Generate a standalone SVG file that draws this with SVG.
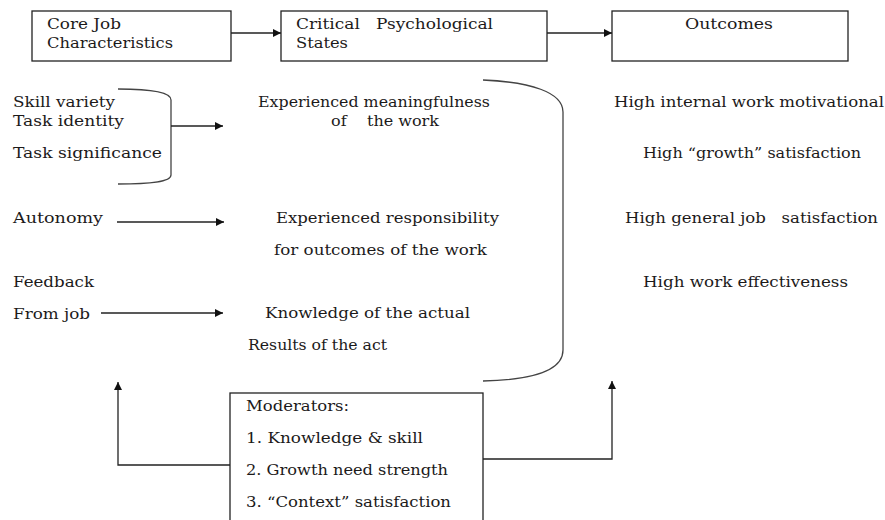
<svg xmlns="http://www.w3.org/2000/svg" width="885" height="520" viewBox="0 0 885 520">
<style>
text{font-family:'DejaVu Serif','Liberation Serif',serif;font-size:14px;fill:#1c1a1a;}
.box{fill:#fff;stroke:#222;stroke-width:1.3;}
.ln{fill:none;stroke:#222;stroke-width:1.3;}
.br{fill:none;stroke:#444;stroke-width:1.3;}
</style>
<defs>
<marker id="ah" viewBox="0 0 10 10" refX="10" refY="5" markerWidth="11" markerHeight="8" markerUnits="userSpaceOnUse" orient="auto">
<path d="M0,0 L10,5 L0,10 z" fill="#111"/>
</marker>
</defs>
<rect width="885" height="520" fill="#fff"/>

<g id="core-box">
<rect class="box" x="32" y="11" width="199" height="50"/>
<text x="47" y="29" textLength="74" lengthAdjust="spacingAndGlyphs">Core Job</text>
<text x="47" y="48" textLength="126" lengthAdjust="spacingAndGlyphs">Characteristics</text>
</g>
<g id="critical-box">
<rect class="box" x="281" y="11" width="266" height="50"/>
<text x="296" y="29" xml:space="preserve" textLength="197" lengthAdjust="spacingAndGlyphs">Critical   Psychological</text>
<text x="296" y="48" textLength="52" lengthAdjust="spacingAndGlyphs">States</text>
</g>
<g id="outcomes-box">
<rect class="box" x="612" y="11" width="236" height="50"/>
<text x="685" y="29" textLength="88" lengthAdjust="spacingAndGlyphs">Outcomes</text>
</g>

<g id="core-list">
<path class="br" d="M118,89 C150,89 171,92 171,100 L171,175 C171,182 150,184 118,184"/>
<text x="13" y="107" textLength="102" lengthAdjust="spacingAndGlyphs">Skill variety</text>
<text x="13" y="126" textLength="111" lengthAdjust="spacingAndGlyphs">Task identity</text>
<text x="13" y="158" textLength="149" lengthAdjust="spacingAndGlyphs">Task significance</text>
<text x="13" y="223" textLength="90" lengthAdjust="spacingAndGlyphs">Autonomy</text>
<text x="13" y="287" textLength="81" lengthAdjust="spacingAndGlyphs">Feedback</text>
<text x="13" y="319" textLength="77" lengthAdjust="spacingAndGlyphs">From job</text>
</g>

<g id="states-list">
<path class="br" d="M483,80 C530,82 563,92 563,112 L563,350 C563,372 530,380 483,381"/>
<text x="258" y="107" textLength="232" lengthAdjust="spacingAndGlyphs">Experienced meaningfulness</text>
<text x="331" y="126" xml:space="preserve" textLength="108" lengthAdjust="spacingAndGlyphs">of    the work</text>
<text x="276" y="223" textLength="223" lengthAdjust="spacingAndGlyphs">Experienced responsibility</text>
<text x="274" y="255" textLength="213" lengthAdjust="spacingAndGlyphs">for outcomes of the work</text>
<text x="265" y="318" textLength="205" lengthAdjust="spacingAndGlyphs">Knowledge of the actual</text>
<text x="248" y="350" textLength="139" lengthAdjust="spacingAndGlyphs">Results of the act</text>
</g>

<g id="outcomes-list">
<text x="614" y="107" textLength="270" lengthAdjust="spacingAndGlyphs">High internal work motivational</text>
<text x="643" y="158" textLength="218" lengthAdjust="spacingAndGlyphs">High “growth” satisfaction</text>
<text x="625" y="223" xml:space="preserve" textLength="253" lengthAdjust="spacingAndGlyphs">High general job   satisfaction</text>
<text x="643" y="287" textLength="205" lengthAdjust="spacingAndGlyphs">High work effectiveness</text>
</g>

<g id="moderators">
<rect class="box" x="230" y="393" width="253" height="140"/>
<text x="246" y="411" textLength="103" lengthAdjust="spacingAndGlyphs">Moderators:</text>
<text x="246" y="443" textLength="177" lengthAdjust="spacingAndGlyphs">1. Knowledge &amp; skill</text>
<text x="246" y="475" textLength="202" lengthAdjust="spacingAndGlyphs">2. Growth need strength</text>
<text x="246" y="507" textLength="205" lengthAdjust="spacingAndGlyphs">3. “Context” satisfaction</text>
</g>

<g id="connectors">
<line class="ln" x1="231" y1="33" x2="281" y2="33" marker-end="url(#ah)"/>
<line class="ln" x1="547" y1="33" x2="612" y2="33" marker-end="url(#ah)"/>
<line class="ln" x1="171" y1="126" x2="223" y2="126" marker-end="url(#ah)"/>
<line class="ln" x1="117" y1="222" x2="224" y2="222" marker-end="url(#ah)"/>
<line class="ln" x1="101" y1="313" x2="223" y2="313" marker-end="url(#ah)"/>
<path class="ln" d="M230,465 H118 V382" marker-end="url(#ah)"/>
<path class="ln" d="M483,459 H612 V381" marker-end="url(#ah)"/>
</g>
</svg>
